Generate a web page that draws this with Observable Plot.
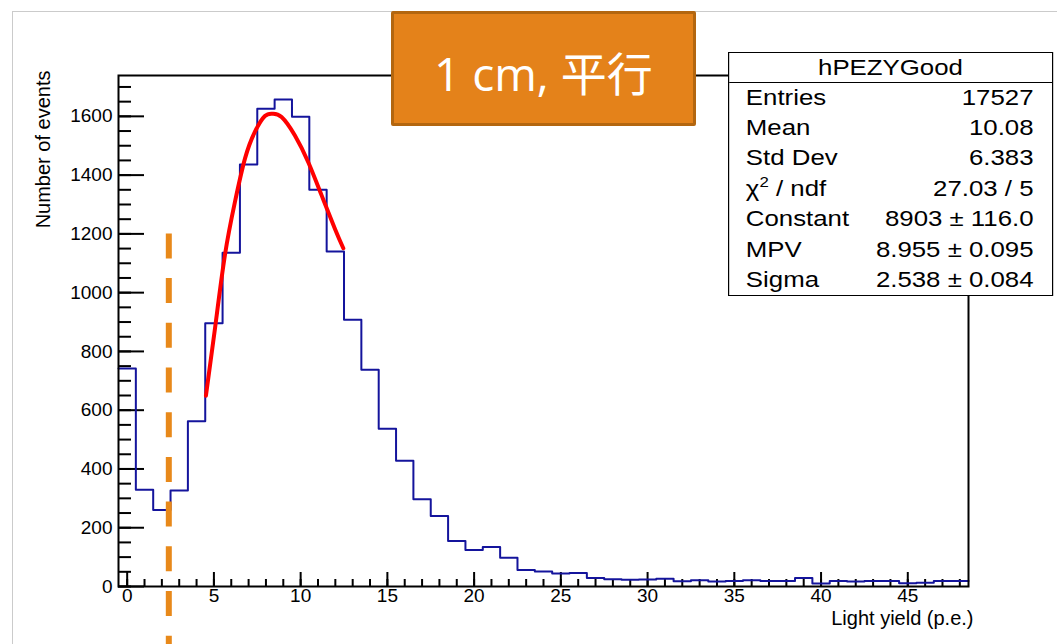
<!DOCTYPE html>
<html>
<head>
<meta charset="utf-8">
<script src="https://cdn.jsdelivr.net/npm/d3@7"></script>
<script src="https://cdn.jsdelivr.net/npm/@observablehq/plot@0.6"></script>
<style>
  html, body { margin: 0; padding: 0; background: #fff; }
  #wrap { position: relative; width: 1057px; height: 644px; overflow: hidden;
          font-family: "Liberation Sans", Arial, Helvetica, sans-serif; color: #000; }
  #border { position: absolute; left: 12px; top: 11px; width: 1100px; height: 700px;
            border-top: 1.5px solid #cbcbcb; border-left: 1.5px solid #cbcbcb; }
  #chart { position: absolute; left: 0; top: 0; }
  #stats { position: absolute; left: 728.3px; top: 51.7px; width: 270.8px; height: 244.3px;
           box-sizing: border-box; background: #fff;
           border-top: 1.6px solid #000; border-bottom: 1.6px solid #000;
           border-left: 1.3px solid #000; border-right: 1.3px solid #000;
           transform: scaleX(1.2); transform-origin: 0 0; font-size: 21.5px; }
  #stats .head { height: 30px; line-height: 31px; text-align: center; border-bottom: 1.6px solid #000; box-sizing: border-box; }
  #stats .row { height: 30.4px; line-height: 31px; display: flex; justify-content: space-between;
                padding: 0 15.2px 0 13.9px; }
  #stats sup { font-size: 14px; line-height: 0; position: relative; top: -1px; }
  #title { position: absolute; left: 390.7px; top: 11px; width: 305.3px; height: 115px; box-sizing: border-box;
           background: #e4821a; border: 3px solid #b3660f; border-radius: 2px;
           color: #fff; font-family: "Open Sans", "Noto Sans CJK JP", sans-serif; font-size: 46px;
           display: flex; align-items: center; justify-content: center; padding-top: 4px; }
</style>
</head>
<body>
<div id="wrap">
  <div id="border"></div>
  <div id="chart"></div>
  <div id="title"></div>
  <div id="stats"></div>
</div>
<script>
// ---------- data ----------
const binCenters = [0,1,2,3,4,5,6,7,8,9,10,11,12,13,14,15,16,17,18,19,20,21,22,23,24,
                    25,26,27,28,29,30,31,32,33,34,35,36,37,38,39,40,41,42,43,44,45,46,47,48];
const binCounts  = [742,329,260,327,562,896,1136,1436,1626,1657,1599,1350,1140,908,738,537,428,297,240,155,
                    124,134,98,56,51,44,46,29,25,23,24,26,18,21,17,19,21,19,19,29,10,19,17,19,19,11,13,19,19];
const binEdges   = [-0.5, 48.5];

const fitX = [4.54,5.06,5.63,6.21,6.79,7.36,7.94,8.38,8.9,9.67,10.44,11.21,11.98,12.46];
const fitY = [649,877,1126,1308,1456,1547,1601,1609,1598,1535,1444,1331,1217,1151];

const cutX = 2.4;
const cutRange = [1200, -200];

const xTickLabels = [0,5,10,15,20,25,30,35,40,45];
const yTickLabels = [0,200,400,600,800,1000,1200,1400,1600];
const xDomain = [-0.5, 48.5];
const yDomain = [0, 1739];

const titleText = "1 cm, 平行";
const xTitle = "Light yield (p.e.)";
const yTitle = "Number of events";
const statName = "hPEZYGood";
const statLabels = ["Entries","Mean","Std Dev","χ<sup>2</sup> / ndf","Constant","MPV","Sigma"];
const statValues = ["17527","10.08","6.383","27.03 / 5","8903 ± 116.0","8.955 ± 0.095","2.538 ± 0.084"];

// ---------- build ----------
const xMinor = d3.range(0, 49, 1);
const yMinor = d3.range(0, 1701, 50);

const histData = [{x: binEdges[0], y: binCounts[0]}]
  .concat(binCenters.map((c, i) => ({x: c, y: binCounts[i]})))
  .concat([{x: binEdges[1], y: binCounts[binCounts.length - 1]}]);
const fitData = fitX.map((x, i) => ({x, y: fitY[i]}));

const W = 1057, H = 644, mL = 118, mR = 89, mT = 75, mB = 58;
const fW = W - mL - mR, fH = H - mT - mB;
const tk = {stroke: "#000", strokeWidth: 2};

const plot = Plot.plot({
  width: W, height: H,
  marginLeft: mL, marginRight: mR, marginTop: mT, marginBottom: mB,
  style: {fontFamily: '"Liberation Sans", Arial, sans-serif', background: "transparent", color: "#000", overflow: "visible"},
  x: {domain: xDomain, axis: null},
  y: {domain: yDomain, axis: null},
  marks: [
    Plot.tickY(yMinor, {y: d => d, insetRight: fW - 13, ...tk}),
    Plot.tickY(yTickLabels, {y: d => d, insetRight: fW - 26, ...tk}),
    Plot.tickX(xMinor, {x: d => d, insetTop: fH - 7, ...tk}),
    Plot.tickX(xTickLabels, {x: d => d, insetTop: fH - 14, ...tk}),
    Plot.axisY(yTickLabels, {anchor: "left", tickSize: 0, tickPadding: 6, fontSize: 19, label: null, tickFormat: d => String(d)}),
    Plot.axisX(xTickLabels, {anchor: "bottom", tickSize: 0, tickPadding: 2, fontSize: 19, label: null, tickFormat: d => String(d)}),
    Plot.line(histData, {x: "x", y: "y", curve: "step", stroke: "#14149c", strokeWidth: 2}),
    Plot.line(fitData, {x: "x", y: "y", curve: "natural", stroke: "#ff0000", strokeWidth: 4}),
    Plot.ruleX([cutX], {x: d => d, y1: cutRange[0], y2: cutRange[1], stroke: "#e8891a", strokeWidth: 6, strokeDasharray: "25,19.7"}),
    Plot.frame({stroke: "#000", strokeWidth: 2}),
    Plot.text([yTitle], {text: d => d, frameAnchor: "top-left", rotate: -90, textAnchor: "end",
      dx: -83, dy: -5, fontSize: 20, style: "letter-spacing:0.9px"}),
    Plot.text([xTitle], {text: d => d, frameAnchor: "bottom-right", textAnchor: "end",
      dx: 5, dy: 38, fontSize: 20, style: "letter-spacing:0.4px"})
  ]
});
document.getElementById("chart").appendChild(plot);

document.getElementById("title").textContent = titleText;

const stats = document.getElementById("stats");
let html = `<div class="head">${statName}</div>`;
statLabels.forEach((l, i) => { html += `<div class="row"><span>${l}</span><span>${statValues[i]}</span></div>`; });
stats.innerHTML = html;
</script>
</body>
</html>
